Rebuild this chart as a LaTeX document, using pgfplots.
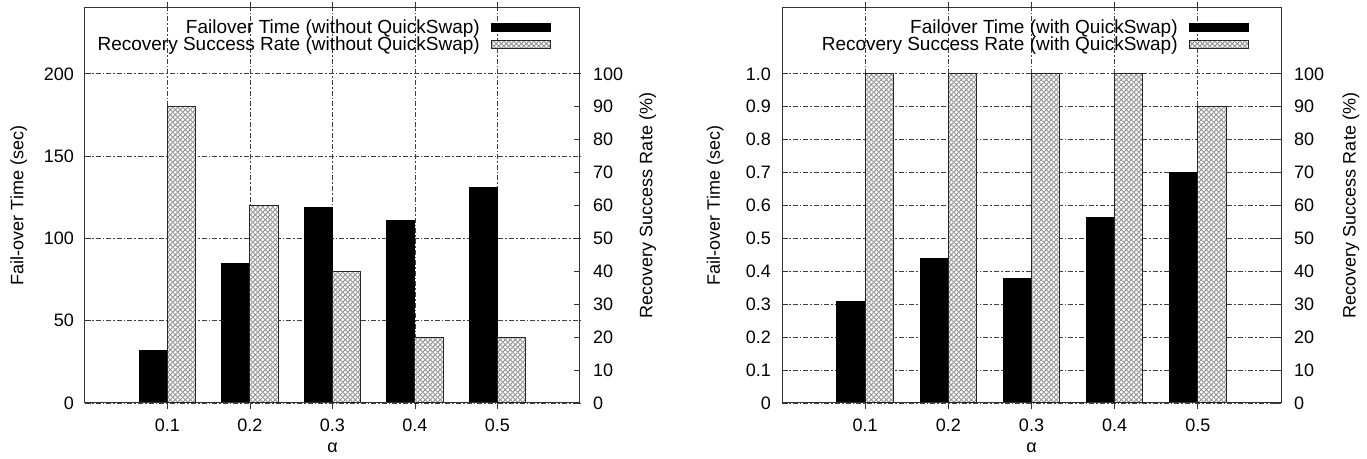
\documentclass[border=0pt]{standalone}
\usepackage{fontspec}
\setmainfont{Liberation Sans}
\usepackage{pgfplots}
\pgfplotsset{compat=1.18}
\usetikzlibrary{patterns}

% fine gray cross hatch, as gnuplot draws it
\pgfdeclarepatternformonly{finex}{\pgfpointorigin}{\pgfqpoint{2.4pt}{2.4pt}}{\pgfqpoint{2.4pt}{2.4pt}}{%
  \pgfsetlinewidth{0.45pt}%
  \pgfpathmoveto{\pgfqpoint{0pt}{0pt}}\pgfpathlineto{\pgfqpoint{2.4pt}{2.4pt}}%
  \pgfpathmoveto{\pgfqpoint{0pt}{2.4pt}}\pgfpathlineto{\pgfqpoint{2.4pt}{0pt}}%
  \pgfusepath{stroke}}

\pgfplotsset{
  every axis/.append style={font=\fontsize{9}{10.8}\selectfont},
  panel/.style={
    scale only axis, width=247.5pt, height=197.5pt,
    anchor=south west,
    xmin=0, xmax=0.6,
    xtick={0.1,0.2,0.3,0.4,0.5},
    xticklabels={0.1,0.2,0.3,0.4,0.5},
    xticklabel style={yshift=-1.5pt},
    tick align=inside, major tick length=3pt,
    tick style={black!80, line width=0.4pt},
    axis line style={black!80, line width=0.5pt},
    /pgf/number format/assume math mode=true,
    ybar, bar width=0.034,
  },
  gridstyle/.style={
    grid=major,
    major grid style={black!75, line width=0.35pt,
      dash pattern=on 2.5pt off 1pt on 0.8pt off 1pt},
  },
  blackbar/.style={fill=black, draw=black, line width=0.5pt},
  hatchbar/.style={fill=white, draw=black!85, line width=0.5pt,
    postaction={pattern=finex, pattern color=black!45}},
  swatch/.style={legend image code/.code={
    \path (0pt,0pt);
    \draw[##1] (4pt,-2pt) rectangle (33.5pt,2pt);}},
  legendstyle/.style={
    legend plot pos=right, legend cell align=right,
    legend style={draw=none, fill=none, anchor=north east,
      font=\fontsize{9.5}{11}\selectfont,
      row sep=-2.8pt, nodes={inner sep=1.5pt}},
  },
}

\begin{document}
\begin{tikzpicture}
\useasboundingbox (-42.5pt,-28pt) rectangle (641pt,201.5pt);

% ---- left panel: without QuickSwap
\begin{axis}[panel, gridstyle, at={(0pt,0pt)},
  ymin=0, ymax=240, ytick={0,50,100,150,200}, ytick pos=left,
  yticklabel style={xshift=-2pt},
  xlabel={α},
  xlabel style={at={(axis description cs:0.5,-0.113)}, anchor=center},
  ylabel={Fail-over Time (sec)},
  ylabel style={at={(axis description cs:-0.134,0.5)}, anchor=center},
]
\addplot[blackbar, bar shift=-0.017] coordinates
  {(0.1,32) (0.2,85) (0.3,119) (0.4,111) (0.5,131)};
\end{axis}
\begin{axis}[panel, at={(0pt,0pt)},
  ymin=0, ymax=120, ytick={0,10,...,100}, ytick pos=right, xtick=\empty,
  yticklabel style={xshift=3pt},
  ylabel={Recovery Success Rate (\%)},
  ylabel style={at={(axis description cs:1.137,0.5)}, anchor=center},
  swatch, legendstyle,
  legend style={at={(0.954,0.99)}},
]
\addlegendimage{blackbar}
\addlegendentry{Failover Time (without QuickSwap)}
\addplot[hatchbar, bar shift=0.017] coordinates
  {(0.1,90) (0.2,60) (0.3,40) (0.4,20) (0.5,20)};
\addlegendentry{Recovery Success Rate (without QuickSwap)}
\end{axis}

% ---- right panel: with QuickSwap
\begin{axis}[panel, gridstyle, at={(348.5pt,0pt)}, width=249.5pt,
  ymin=0, ymax=1.2, ytick={0,0.1,0.2,0.3,0.4,0.5,0.6,0.7,0.8,0.9,1.0},
  yticklabels={0,0.1,0.2,0.3,0.4,0.5,0.6,0.7,0.8,0.9,1.0}, ytick pos=left,
  yticklabel style={xshift=-2pt},
  xlabel={α},
  xlabel style={at={(axis description cs:0.5,-0.113)}, anchor=center},
  ylabel={Fail-over Time (sec)},
  ylabel style={at={(axis description cs:-0.134,0.5)}, anchor=center},
]
\addplot[blackbar, bar shift=-0.017] coordinates
  {(0.1,0.308) (0.2,0.439) (0.3,0.377) (0.4,0.564) (0.5,0.701)};
\end{axis}
\begin{axis}[panel, at={(348.5pt,0pt)}, width=249.5pt,
  ymin=0, ymax=120, ytick={0,10,...,100}, ytick pos=right, xtick=\empty,
  yticklabel style={xshift=3pt},
  ylabel={Recovery Success Rate (\%)},
  ylabel style={at={(axis description cs:1.14,0.5)}, anchor=center},
  swatch, legendstyle,
  legend style={at={(0.948,0.99)}},
]
\addlegendimage{blackbar}
\addlegendentry{Failover Time (with QuickSwap)}
\addplot[hatchbar, bar shift=0.017] coordinates
  {(0.1,100) (0.2,100) (0.3,100) (0.4,100) (0.5,90)};
\addlegendentry{Recovery Success Rate (with QuickSwap)}
\end{axis}
\end{tikzpicture}
\end{document}
